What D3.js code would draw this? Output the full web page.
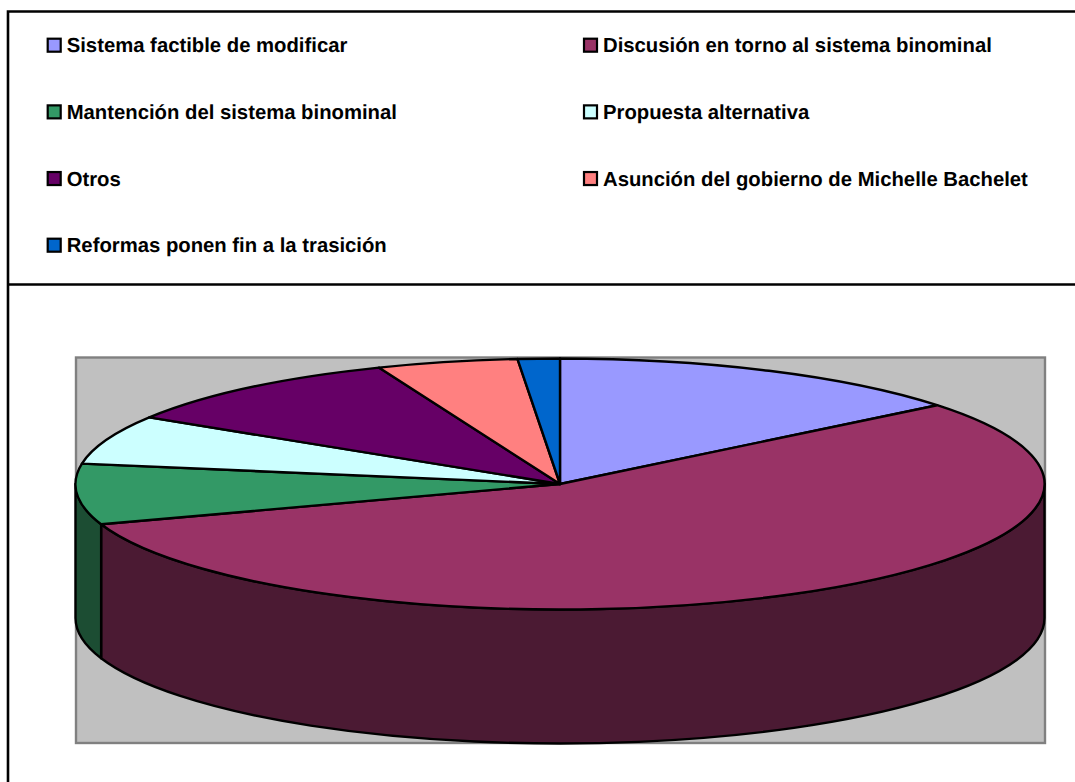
<!DOCTYPE html>
<html>
<head>
<meta charset="utf-8">
<script src="https://cdn.jsdelivr.net/npm/d3@7"></script>
<style>
body { margin: 0; background: #fff; }
text { font-family: "Liberation Sans", Arial, sans-serif; font-weight: bold; font-size: 20.3px; fill: #000; text-rendering: geometricPrecision; }
</style>
</head>
<body>
<div id="chart"></div>
<script>
const categories = [
    "Sistema factible de modificar",
    "Discusión en torno al sistema binominal",
    "Mantención del sistema binominal",
    "Propuesta alternativa",
    "Otros",
    "Asunción del gobierno de Michelle Bachelet",
    "Reformas ponen fin a la trasición"
];
const values = [14.2, 55.6, 7.8, 6.3, 10, 4.7, 1.4];
const colors = ["#9999FF", "#993366", "#339966", "#CCFFFF", "#660066", "#FF8080", "#0066CC"];
const sideColors = ["#4C4C80", "#4B1A33", "#1C4D33", "#668080", "#330033", "#804040", "#003366"];

const width = 1075, height = 782;

const svg = d3.select("#chart")
    .append("svg")
    .attr("width", width)
    .attr("height", height)
    .style("display", "block");

// Frame and divider
svg.append("path")
    .attr("d", `M8,${height} V11.5 H${width} M8,284.5 H${width}`)
    .attr("fill", "none")
    .attr("stroke", "#000")
    .attr("stroke-width", 2.6);

// Legend, two columns filled row by row
const colX = d3.scaleOrdinal().domain([0, 1]).range([47.7, 584]);
const rowY = d3.scalePoint().domain([0, 1, 2, 3]).range([45.2, 245.2]);

const legend = svg.selectAll(".legend")
    .data(categories)
    .enter()
    .append("g")
    .attr("class", "legend")
    .attr("transform", (d, i) => `translate(${colX(i % 2)}, ${rowY(Math.floor(i / 2))})`);

legend.append("rect")
    .attr("x", 0)
    .attr("y", -6.5)
    .attr("width", 13)
    .attr("height", 13)
    .attr("fill", (d, i) => colors[i])
    .attr("stroke", "#000")
    .attr("stroke-width", 2.2);

legend.append("text")
    .attr("x", 19)
    .attr("y", 7.2)
    .text(d => d);

// Plot area
const plot = { left: 76, right: 1045, top: 357.5, bottom: 743 };
svg.append("rect")
    .attr("x", plot.left)
    .attr("y", plot.top)
    .attr("width", plot.right - plot.left)
    .attr("height", plot.bottom - plot.top)
    .attr("fill", "#C0C0C0")
    .attr("stroke", "#808080")
    .attr("stroke-width", 2.4);

// Pie geometry
const cx = 560, cy = 484, rx = 484.5, ry = 125.5, depth = 134;
const pie = d3.pie().sort(null).value(d => d)(values);

function pt(a, dy = 0) {
    return [cx + rx * Math.sin(a), cy - ry * Math.cos(a) + dy];
}
function ellipseArc(a0, a1, dy, sweep) {
    const [x, y] = pt(a1, dy);
    const large = Math.abs(a1 - a0) > Math.PI ? 1 : 0;
    return `A${rx},${ry} 0 ${large} ${sweep} ${x},${y}`;
}

// Side wall: only the part of each slice on the front half shows
const sides = pie
    .map((d, i) => ({
        i: i,
        a0: Math.max(d.startAngle, Math.PI / 2),
        a1: Math.min(d.endAngle, 3 * Math.PI / 2)
    }))
    .filter(d => d.a1 > d.a0);

svg.selectAll(".side")
    .data(sides)
    .enter()
    .append("path")
    .attr("class", "side")
    .attr("d", d => {
        const [x0, y0] = pt(d.a0);
        const [x1, y1] = pt(d.a1, depth);
        return `M${x0},${y0} ${ellipseArc(d.a0, d.a1, 0, 1)} L${x1},${y1} ${ellipseArc(d.a1, d.a0, depth, 0)} Z`;
    })
    .attr("fill", d => sideColors[d.i])
    .attr("stroke", "#000")
    .attr("stroke-width", 2.4)
    .attr("stroke-linejoin", "round");

// Top face
svg.selectAll(".slice")
    .data(pie)
    .enter()
    .append("path")
    .attr("class", "slice")
    .attr("d", d => {
        const [x0, y0] = pt(d.startAngle);
        return `M${cx},${cy} L${x0},${y0} ${ellipseArc(d.startAngle, d.endAngle, 0, 1)} Z`;
    })
    .attr("fill", (d, i) => colors[i])
    .attr("stroke", "#000")
    .attr("stroke-width", 2.4)
    .attr("stroke-linejoin", "round");
</script>
</body>
</html>
